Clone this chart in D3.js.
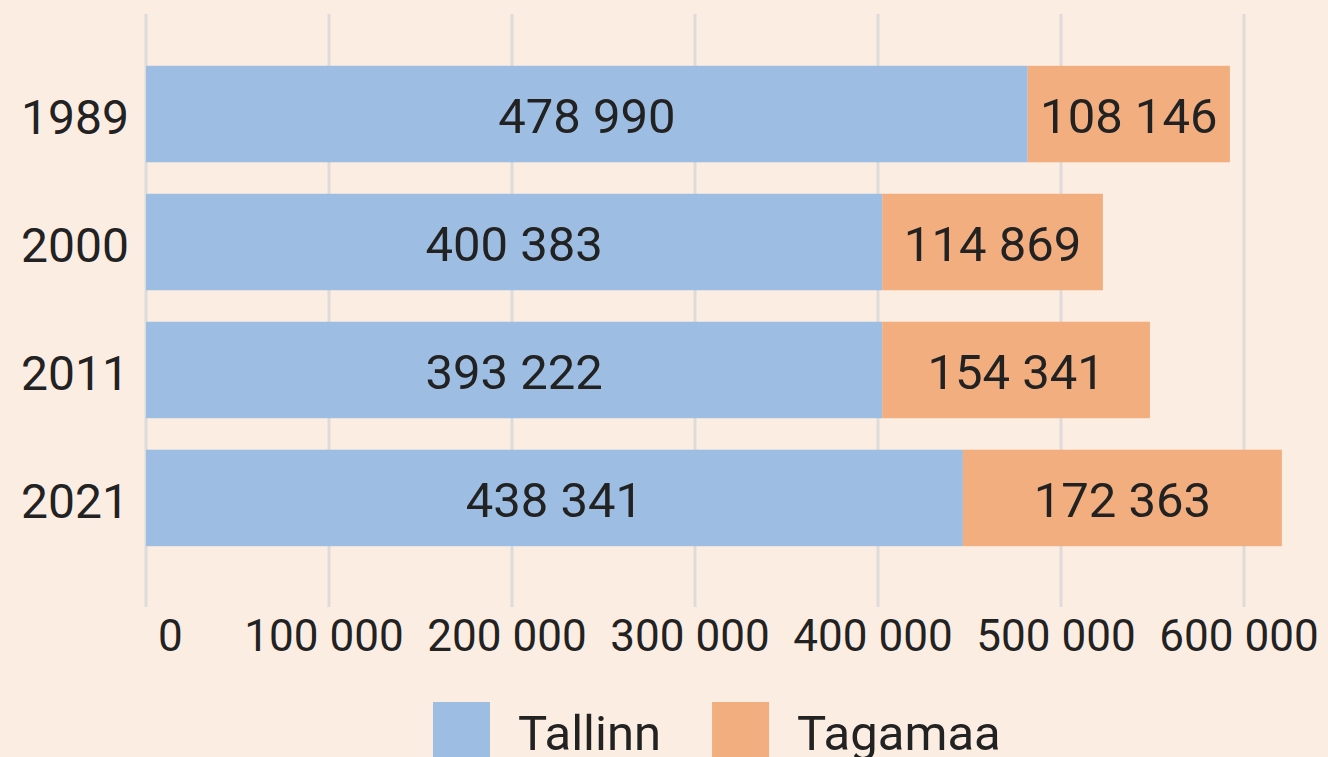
<!DOCTYPE html>
<html>
<head>
<meta charset="utf-8">
<script src="https://cdn.jsdelivr.net/npm/d3@7"></script>
<style>
  html, body { margin: 0; padding: 0; background: #fcede3; }
  svg { display: block; font-family: Roboto, "Noto Sans", sans-serif; }
</style>
</head>
<body>
<script>
// Data
let years = ["1989", "2000", "2011", "2021"];
let series = ["Tallinn", "Tagamaa"];
// bar lengths as drawn in the picture
let tallinn = [481800, 402300, 402300, 446400];
let tagamaa = [110500, 120600, 146300, 174300];
// printed labels (the source prints these on the bars)
let tallinnLabels = ["478 990", "400 383", "393 222", "438 341"];
let tagamaaLabels = ["108 146", "114 869", "154 341", "172 363"];
let xTicks = [0, 100000, 200000, 300000, 400000, 500000, 600000];

let colors = {
  "Tallinn": "#9dbee2",
  "Tagamaa": "#f2ae7f"
};

let width = 1328;
let height = 757;
let plot = { top: 14, bottom: 607, left: 146, right: 1244 };

let svg = d3.select("body").append("svg")
    .attr("width", width)
    .attr("height", height);

svg.append("rect")
    .attr("width", width)
    .attr("height", height)
    .style("fill", "#fcede3");

let x = d3.scaleLinear()
    .domain([0, 600000])
    .range([plot.left, plot.right]);

let y = d3.scaleBand()
    .domain(years)
    .range([plot.top, plot.bottom])
    .paddingInner(0.246)
    .paddingOuter(0.44)
    .align(0.46);

let fmt = d3.formatLocale({ thousands: " ", grouping: [3], decimal: ",", currency: ["", ""] }).format(",d");

// Gridlines
svg.append("g")
    .selectAll("line")
    .data(xTicks)
    .enter().append("line")
    .attr("x1", d => x(d))
    .attr("x2", d => x(d))
    .attr("y1", plot.top)
    .attr("y2", plot.bottom)
    .style("stroke", "#dddcda")
    .style("stroke-width", 3);

// Stacked rows
let rows = years.map((year, i) => ({
  year: year,
  Tallinn: tallinn[i],
  Tagamaa: tagamaa[i],
  labels: { Tallinn: tallinnLabels[i], Tagamaa: tagamaaLabels[i] }
}));

let stack = d3.stack().keys(series)(rows);

let layer = svg.append("g")
    .selectAll("g")
    .data(stack)
    .enter().append("g")
    .style("fill", d => colors[d.key]);

layer.selectAll("rect")
    .data(d => d)
    .enter().append("rect")
    .attr("x", d => x(d[0]))
    .attr("y", d => y(d.data.year))
    .attr("width", d => x(d[1]) - x(d[0]))
    .attr("height", y.bandwidth());

// Value labels
let labels = svg.append("g");
stack.forEach(s => {
  labels.selectAll(".lbl-" + s.key)
      .data(s)
      .enter().append("text")
      .attr("class", "lbl-" + s.key)
      .attr("x", d => (x(d[0]) + x(d[1])) / 2)
      .attr("y", d => y(d.data.year) + y.bandwidth() / 2 + 19)
      .attr("text-anchor", "middle")
      .style("font-size", "49px")
      .style("fill", "#222")
      .text(d => d.data.labels[s.key]);
});

// Y axis labels
svg.append("g")
    .selectAll("text")
    .data(years)
    .enter().append("text")
    .attr("x", 129)
    .attr("y", d => y(d) + y.bandwidth() / 2 + 20)
    .attr("text-anchor", "end")
    .style("font-size", "48px")
    .style("fill", "#222")
    .text(d => d);

// X axis labels
svg.append("g")
    .selectAll("text")
    .data(xTicks)
    .enter().append("text")
    .attr("x", d => x(d))
    .attr("dx", (d, i) => i === 0 ? 12 : -5)
    .attr("y", 651)
    .attr("text-anchor", (d, i) => i === 0 ? "start" : "middle")
    .style("font-size", "44px")
    .style("fill", "#222")
    .text(d => fmt(d));

// Legend (runs off the bottom edge, as in the source)
let legend = svg.append("g")
    .attr("transform", "translate(433,702)");

let lx = 0;
series.forEach(key => {
  let item = legend.append("g").attr("transform", "translate(" + lx + ",0)");
  item.append("rect")
      .attr("width", 57)
      .attr("height", 57)
      .style("fill", colors[key]);
  let t = item.append("text")
      .attr("x", 85)
      .attr("y", 48)
      .style("font-size", "49px")
      .style("fill", "#222")
      .text(key);
  lx += 85 + t.node().getComputedTextLength() + 51;
});
</script>
</body>
</html>
